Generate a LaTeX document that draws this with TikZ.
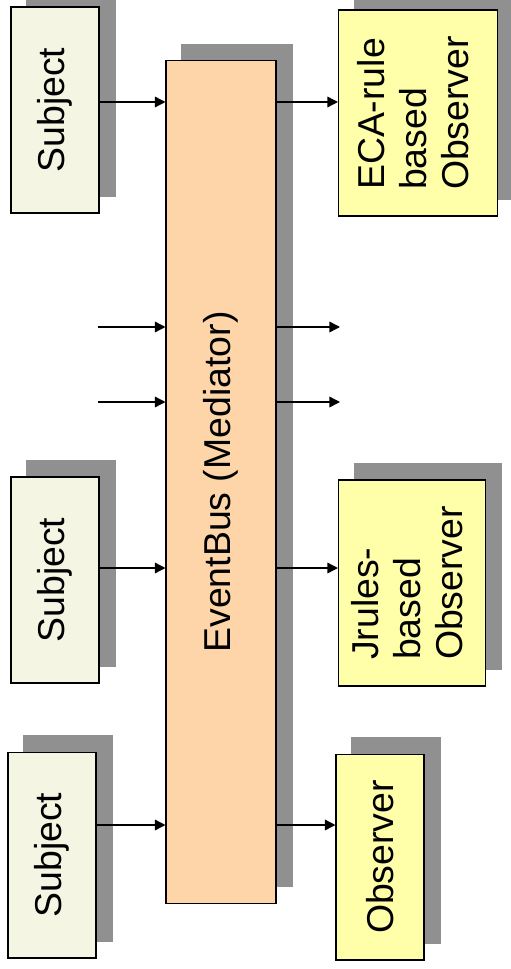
\documentclass[tikz,border=0pt]{standalone}
\usepackage{fontspec}
\setmainfont{Liberation Sans}
\usetikzlibrary{backgrounds,arrows.meta}
\definecolor{subjfill}{HTML}{F5F5E3}
\definecolor{obsfill}{HTML}{FFFFAA}
\definecolor{busfill}{HTML}{FDD5A8}
\definecolor{shadowgray}{HTML}{909090}

\begin{document}
\begin{tikzpicture}[x=0.02cm, y=-0.02cm,
        box/.style = {draw, line width=0.6pt, inner sep=0pt,
                      font=\fontsize{21.3}{23.8}\selectfont},
       subj/.style = {box, fill=subjfill, minimum width=1.76cm, minimum height=4.12cm},
        obs/.style = {box, fill=obsfill, minimum height=4.12cm},
        bus/.style = {box, fill=busfill, minimum width=2.2cm, minimum height=16.86cm},
     shadow/.style = {fill=shadowgray},
        arr/.style = {-{Triangle[length=6pt,width=6pt]}, line width=0.8pt}
                                ]
        \useasboundingbox (0,0) rectangle (510,969);
        % boxes
        \node[bus]  (bus) at (221,482) {\rotatebox{90}{EventBus (Mediator)}};
        \node[subj] (s1)  at (55,110)  {\rotatebox{90}{Subject}};
        \node[subj] (s2)  at (55,580)  {\rotatebox{90}{Subject}};
        \node[subj] (s3)  at (52,855)  {\rotatebox{90}{Subject}};
        \node[obs, minimum width=3.18cm] (eca) at (418,113)
            {\rotatebox{90}{\begin{tabular}{@{}l@{}}ECA-rule\\based\\Observer\end{tabular}}};
        \node[obs, minimum width=2.94cm] (jr)  at (412,583)
            {\rotatebox{90}{\begin{tabular}{@{}l@{}}Jrules-\\based\\Observer\end{tabular}}};
        \node[obs, minimum width=1.76cm] (o3)  at (380,857)
            {\rotatebox{90}{Observer}};

        % shadows
        \begin{scope}[on background layer]
            \foreach \n in {bus,s1,s2,s3,eca,jr,o3}
                \fill[shadow] ([xshift=0.32cm,yshift=0.33cm]\n.south west)
                    rectangle ([xshift=0.32cm,yshift=0.33cm]\n.north east);
        \end{scope}

        % rows of arrows
        \coordinate (r1) at (0,102);
        \coordinate (r2) at (98,327);
        \coordinate (e2) at (340,327);
        \coordinate (r3) at (98,402);
        \coordinate (e3) at (340,402);
        \coordinate (r4) at (0,568);
        \coordinate (r5) at (0,825);

        \draw[arr] (s1.east |- r1) -- (bus.west |- r1);
        \draw[arr] (bus.east |- r1) -- (eca.west |- r1);
        \draw[arr] (r2) -- (bus.west |- r2);
        \draw[arr] (bus.east |- e2) -- (e2);
        \draw[arr] (r3) -- (bus.west |- r3);
        \draw[arr] (bus.east |- e3) -- (e3);
        \draw[arr] (s2.east |- r4) -- (bus.west |- r4);
        \draw[arr] (bus.east |- r4) -- (jr.west |- r4);
        \draw[arr] (s3.east |- r5) -- (bus.west |- r5);
        \draw[arr] (bus.east |- r5) -- (o3.west |- r5);

    \end{tikzpicture}
\end{document}
